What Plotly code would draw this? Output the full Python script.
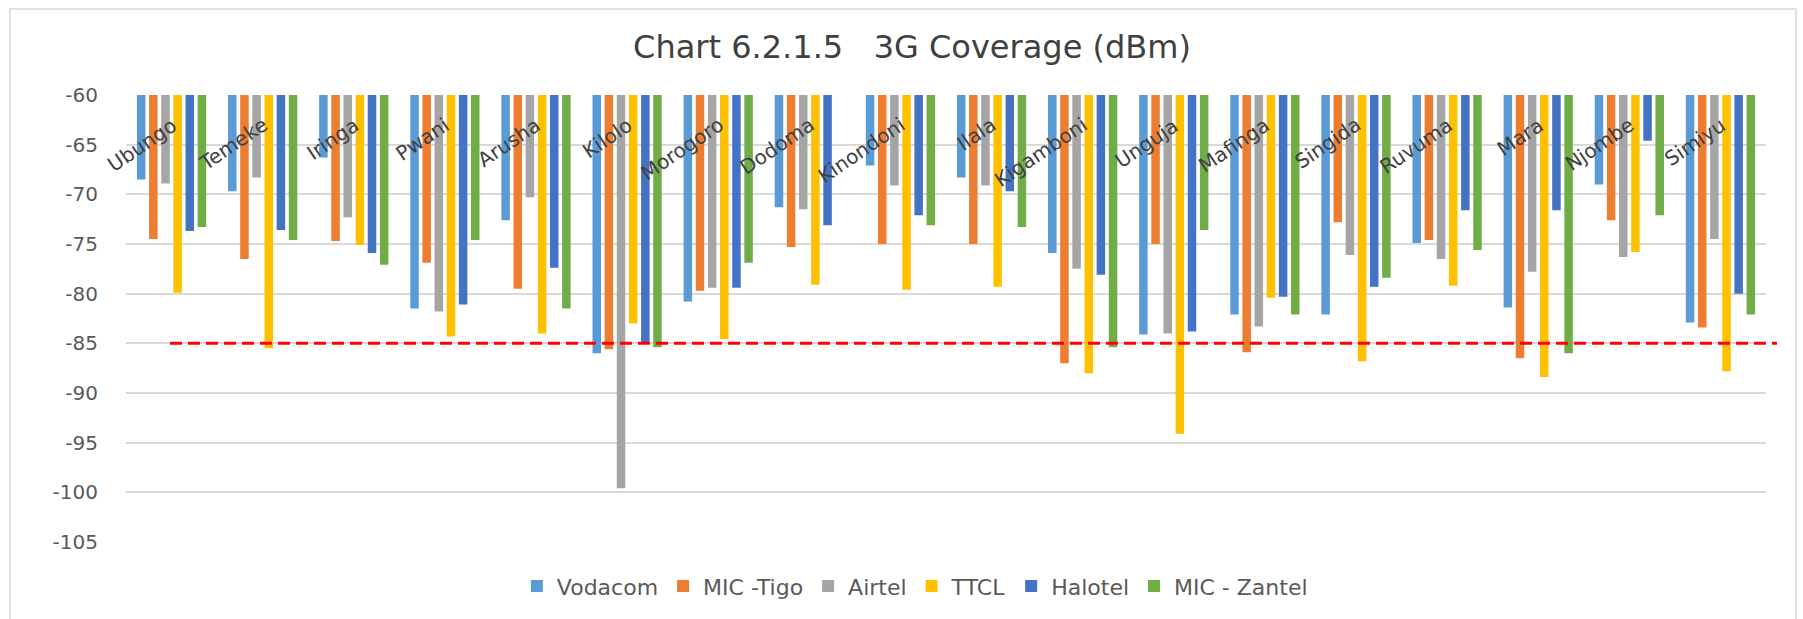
import plotly.graph_objects as go

categories = ["Ubungo", "Temeke", "Iringa", "Pwani", "Arusha", "Kilolo", "Morogoro", "Dodoma",
              "Kinondoni", "Ilala", "Kigamboni", "Unguja", "Mafinga", "Singida", "Ruvuma",
              "Mara", "Njombe", "Simiyu"]

vodacom = [-68.5, -69.7, -66.3, -81.5, -72.6, -86.0, -80.8, -71.3, -67.1, -68.3, -75.9, -84.1,
           -82.1, -82.1, -74.9, -81.4, -69.0, -82.9]
mic_tigo = [-74.5, -76.5, -74.7, -76.9, -79.5, -85.6, -79.7, -75.3, -75.0, -75.0, -87.0, -75.0,
            -85.9, -72.8, -74.6, -86.5, -72.6, -83.4]
airtel = [-68.9, -68.3, -72.3, -81.8, -70.3, -99.6, -79.4, -71.5, -69.1, -69.1, -77.5, -84.0,
          -83.3, -76.1, -76.5, -77.8, -76.3, -74.5]
ttcl = [-79.9, -85.5, -75.1, -84.3, -84.0, -83.0, -84.6, -79.1, -79.6, -79.3, -88.0, -94.1,
        -80.4, -86.8, -79.2, -88.4, -75.8, -87.8]
halotel = [-73.7, -73.6, -75.9, -81.1, -77.4, -84.9, -79.4, -73.1, -72.1, -69.7, -78.1, -83.8,
           -80.3, -79.3, -71.6, -71.6, -64.6, -80.0]
mic_zantel = [-73.3, -74.6, -77.1, -74.6, -81.5, -85.4, -76.9, None, -73.1, -73.3, -85.4, -73.6,
              -82.1, -78.4, -75.6, -86.0, -72.1, -82.1]

series_names = ["Vodacom", "MIC -Tigo", "Airtel", "TTCL", "Halotel", "MIC - Zantel"]
series_values = [vodacom, mic_tigo, airtel, ttcl, halotel, mic_zantel]
series_colors = ["#5B9BD5", "#ED7D31", "#A5A5A5", "#FFC000", "#4472C4", "#70AD47"]

threshold = -85
y_ticks = [-60, -65, -70, -75, -80, -85, -90, -95, -100, -105]
y_tick_labels = ["-60", "-65", "-70", "-75", "-80", "-85", "-90", "-95", "-100", "-105"]

title_text = "Chart 6.2.1.5\u00a0\u00a0\u00a03G Coverage (dBm)"

FONT = "DejaVu Sans"

fig = go.Figure()
for name, vals, col in zip(series_names, series_values, series_colors):
    fig.add_trace(go.Bar(x=categories, y=vals, name=name, marker_color=col,
                         marker_line_width=0))

# threshold dashed line
fig.add_shape(type="line", xref="paper", yref="y", x0=0.0268, x1=1.0067,
              y0=threshold, y1=threshold,
              line=dict(color="#FF0000", width=3, dash="12px,6px"))

# outer chart border
fig.add_shape(type="rect", xref="paper", yref="paper",
              x0=(10 - 126) / 1640, x1=(1796 - 126) / 1640,
              y0=(544 - 640) / 449.5, y1=1 + (94.5 - 8) / 449.5,
              line=dict(color="#D9D9D9", width=1.5), fillcolor="rgba(0,0,0,0)", layer="below")

# category labels, rotated, inside the plot near the top
for cat in categories:
    fig.add_annotation(x=cat, y=-60, xref="x", yref="y", text=cat, showarrow=False,
                       textangle=-34, xanchor="right", yanchor="top",
                       xshift=12, yshift=-15,
                       font=dict(family=FONT, size=20, color="#404040"))

fig.update_layout(
    width=1803, height=619,
    margin=dict(l=126, r=37, t=94.5, b=74.5),
    paper_bgcolor="white", plot_bgcolor="white",
    barmode="group", bargap=0.2, bargroupgap=0.3,
    title=dict(text=title_text, x=912 / 1803, xanchor="center", xref="container",
               y=1 - 47 / 619, yanchor="middle", yref="container",
               font=dict(family=FONT, size=32, color="#404040")),
    legend=dict(orientation="h", x=0.481, xanchor="center", y=-0.099, yanchor="middle",
                font=dict(family=FONT, size=22, color="#595959"), traceorder="normal"),
    xaxis=dict(range=[-0.5, len(categories) - 0.5], autorange=False,
               showticklabels=False, showgrid=False, zeroline=False, showline=False,
               ticks=""),
    yaxis=dict(range=[-105, -60], autorange=False, tickvals=y_ticks, ticktext=y_tick_labels,
               showgrid=True, gridcolor="#D9D9D9", gridwidth=1.5, zeroline=False,
               showline=False, ticks="", ticklabelstandoff=27,
               tickfont=dict(family=FONT, size=20, color="#595959")),
    showlegend=True,
)

fig.write_html("out.html", config={"displayModeBar": False},
               post_script="document.body.style.margin='0px';")
